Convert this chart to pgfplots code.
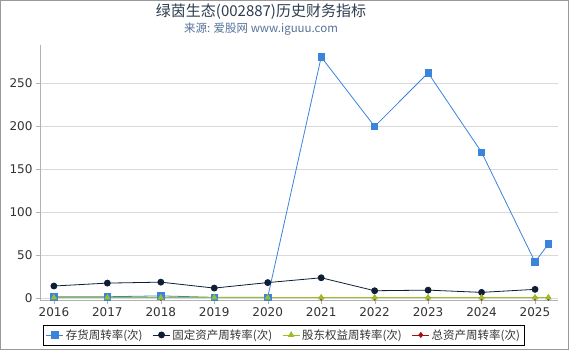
\documentclass[border=0pt]{standalone}
\usepackage{pgfplots}
\pgfplotsset{compat=1.18}
\usepackage{fontspec}
\setmainfont{DejaVu Sans}
\newfontfamily\cjk{Noto Sans CJK SC}
\definecolor{cblue}{HTML}{3A84DC}
\definecolor{cnavy}{HTML}{0E1E36}
\definecolor{colive}{HTML}{9BBF2A}
\definecolor{cred}{HTML}{A01010}
\definecolor{ctitle}{HTML}{2E3E50}
\definecolor{csub}{HTML}{55739A}
\definecolor{ctick}{HTML}{333333}
\begin{document}
\begin{tikzpicture}
\useasboundingbox (0pt,0pt) rectangle (570pt,350pt);
\fill[white] (0pt,0pt) rectangle (570pt,350pt);
\draw[gray!80, line width=1.5pt] (0.5pt,0.5pt) rectangle (568.5pt,349.5pt);
\node[font=\cjk\fontsize{15}{17}\selectfont, text=ctitle] at (261pt,338pt) {绿茵生态(002887)历史财务指标};
\node[font=\cjk\fontsize{11.5}{13}\selectfont, text=csub] at (261pt,321pt) {来源: 爱股网 www.iguuu.com};
\begin{axis}[
  at={(40pt,50pt)}, anchor=south west,
  scale only axis, width=518pt, height=255pt,
  xmin=2015.74, xmax=2025.43,
  ymin=-2.3, ymax=295,
  axis lines*=left,
  axis line style={draw=gray!60},
  xtick={2016,2017,...,2025},
  xticklabel style={/pgf/number format/1000 sep={}},
  ytick={0,50,100,150,200,250},
  ymajorgrids, grid style={draw=gray!30},
  tick style={draw=gray!60},
  tick align=outside,
  major tick length=4pt,
  ticklabel style={font=\fontsize{12}{14}\selectfont, text=ctick},
  /pgf/number format/assume math mode=true,
  legend columns=4,
  legend style={at={(0.471,-0.137)}, anchor=center, draw=black,
    font=\cjk\fontsize{11.5}{13}\selectfont, text=ctick,
    /tikz/every even column/.append style={column sep=8pt},
    inner sep=2.5pt},
  legend image post style={},
  legend cell align=left,
  clip=false,
]
% red drawn first (behind triangles)
\addplot[cred, line width=0.8pt, mark=diamond*, mark size=2.5, forget plot] coordinates {
(2016,0.3) (2017,0.3) (2018,0.3) (2019,0.3) (2020,0.3) (2021,0.3) (2022,0.3) (2023,0.3) (2024,0.3) (2025,0.3) (2025.25,0.3)};
\addplot[cblue, line width=0.8pt, mark=square*, mark size=3.2] coordinates {
(2016,1.5) (2017,1.5) (2018,2.5) (2019,0.8) (2020,1.0) (2021,281) (2022,200) (2023,262.5) (2024,170) (2025,42) (2025.25,63)};
\addlegendentry{存货周转率(次)}
\addplot[cnavy, line width=0.8pt, mark=*, mark size=3] coordinates {
(2016,14) (2017,17.4) (2018,18.5) (2019,11.6) (2020,18) (2021,23.6) (2022,8.5) (2023,9.2) (2024,6.6) (2025,10.1)};
\addlegendentry{固定资产周转率(次)}
\addplot[colive, line width=0.8pt, mark=triangle*, mark size=3] coordinates {
(2016,0.5) (2017,0.5) (2018,0.5) (2019,0.5) (2020,0.5) (2021,0.5) (2022,0.5) (2023,0.5) (2024,0.5) (2025,0.5) (2025.25,0.5)};
\addlegendentry{股东权益周转率(次)}
\addlegendimage{cred, line width=0.8pt, mark=diamond*, mark size=2.5}
\addlegendentry{总资产周转率(次)}
\end{axis}
\end{tikzpicture}
\end{document}
